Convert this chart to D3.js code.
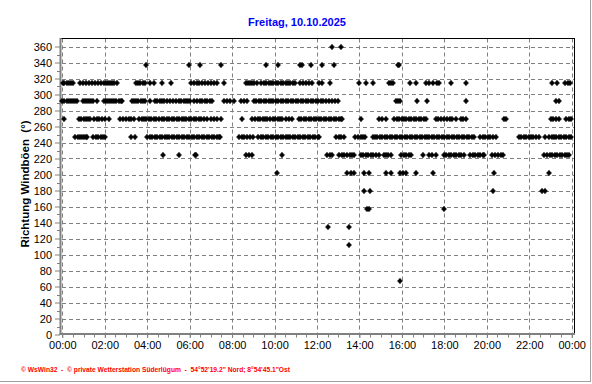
<!DOCTYPE html>
<html>
<head>
<meta charset="utf-8">
<script src="https://cdn.jsdelivr.net/npm/d3@7"></script>
<style>
  body { margin: 0; background: #fff; }
  text { font-family: Arial, "Liberation Sans", sans-serif; }
</style>
</head>
<body>
<div id="chart"></div>
<script>
// gust direction readings, minutes after midnight, grouped by compass direction
const dir360 = [763, 787];
const dir3375 = [238, 358, 388, 448, 575, 610, 672, 678, 702, 733, 768, 948, 953];
const dir315 = [1, 6, 12, 18, 24, 30, 51, 59, 68, 76, 85, 93, 101, 110, 117, 123, 129, 135, 141, 147, 155,
  209, 215, 221, 228, 234, 247, 260, 282, 308, 365, 372, 380, 387, 395, 404, 412, 420, 428, 438, 458,
  518, 524, 530, 536, 543, 550, 563, 570, 577, 584, 590, 597, 604, 611, 618, 624, 631, 638, 645, 651, 658,
  672, 680, 688, 696, 707, 725, 733, 758, 839, 858, 877, 923, 928, 934, 983, 999, 1027, 1036, 1047, 1058,
  1065, 1099, 1140, 1385, 1398, 1420, 1430, 1436];
const dir2925 = [0, 6, 12, 18, 24, 30, 36, 41, 58, 64, 70, 76, 82, 88, 98, 117, 123, 129, 135, 141, 147, 153,
  159, 165, 169, 197, 203, 209, 215, 222, 228, 233, 249, 263, 268, 276, 282, 288, 296, 304, 312, 320, 329,
  336, 343, 350, 356, 362, 371, 380, 388, 395, 402, 410, 418, 424, 457, 465, 473, 485, 504, 515, 523, 541,
  548, 555, 562, 569, 576, 583, 590, 597, 604, 611, 618, 625, 632, 639, 646, 653, 660, 667, 674, 681, 688,
  695, 702, 709, 716, 722, 730, 738, 745, 754, 762, 770, 778, 943, 950, 956, 1004, 1032, 1140, 1395, 1403];
const dir270 = [4, 46, 53, 60, 67, 74, 79, 91, 98, 105, 113, 121, 131, 164, 172, 180, 188, 193, 202, 216, 224,
  231, 238, 245, 252, 259, 266, 274, 281, 288, 295, 302, 309, 316, 323, 330, 337, 344, 351, 358, 365, 372,
  379, 386, 393, 400, 409, 419, 428, 438, 450, 509, 537, 545, 552, 559, 566, 573, 580, 588, 595, 602, 609,
  616, 622, 631, 640, 650, 669, 676, 683, 690, 697, 704, 711, 718, 725, 732, 739, 746, 753, 760, 767, 774,
  781, 788, 791, 844, 895, 905, 914, 938, 945, 952, 959, 966, 973, 980, 987, 994, 1001, 1008, 1015, 1022,
  1029, 1055, 1063, 1071, 1079, 1087, 1095, 1103, 1112, 1126, 1134, 1140, 1249, 1253, 1381, 1388, 1395,
  1405, 1424, 1431, 1438];
const dir2475 = [37, 43, 49, 55, 61, 67, 70, 87, 94, 101, 108, 115, 122, 193, 206, 240, 247, 254, 261, 268,
  275, 282, 289, 296, 303, 310, 317, 324, 331, 338, 345, 352, 359, 366, 373, 380, 387, 394, 401, 408, 415,
  422, 429, 436, 443, 447, 499, 507, 515, 523, 531, 538, 554, 561, 568, 575, 582, 589, 596, 603, 610, 617,
  624, 631, 638, 645, 652, 659, 666, 673, 680, 687, 694, 701, 708, 715, 722, 727, 773, 781, 789, 796, 827,
  835, 843, 851, 857, 877, 884, 891, 898, 905, 912, 919, 926, 933, 940, 947, 954, 961, 968, 975, 982, 989,
  996, 1003, 1010, 1017, 1024, 1031, 1038, 1045, 1052, 1059, 1066, 1073, 1080, 1087, 1094, 1101, 1108,
  1115, 1122, 1129, 1136, 1143, 1150, 1157, 1164, 1182, 1189, 1196, 1203, 1210, 1217, 1225, 1291, 1298,
  1305, 1312, 1319, 1326, 1330, 1340, 1347, 1364, 1376, 1383, 1390, 1397, 1404, 1411, 1418, 1425, 1432, 1439];
const dir225 = [284, 331, 376, 379, 518, 527, 537, 622, 749, 756, 763, 782, 790, 797, 804, 812, 819, 826, 844,
  851, 858, 865, 872, 879, 886, 895, 908, 916, 922, 928, 958, 966, 973, 980, 987, 1019, 1037, 1046, 1055,
  1079, 1086, 1093, 1100, 1107, 1114, 1121, 1128, 1136, 1153, 1160, 1167, 1174, 1181, 1188, 1192, 1216,
  1224, 1232, 1240, 1247, 1363, 1371, 1378, 1385, 1392, 1399, 1406, 1413, 1420, 1427, 1433];
const dir2025 = [607, 805, 815, 824, 853, 866, 915, 928, 956, 964, 973, 999, 1048, 1221, 1376];
const dir180 = [853, 869, 1218, 1357, 1365];
const dir1575 = [860, 867, 1079];
const dir135 = [751, 811];
const dir1125 = [811];
const dir675 = [956];

const yTicks = [0, 20, 40, 60, 80, 100, 120, 140, 160, 180, 200, 220, 240, 260, 280, 300, 320, 340, 360];
const title = "Freitag, 10.10.2025";
const yLabel = "Richtung Windböen  (°)";
const footer = "© WsWin32  -  © private Wetterstation Süderlügum  -  54°52'19.2\" Nord; 8°54'45.1\"Ost";

const series = [
  [360, dir360], [337.5, dir3375], [315, dir315], [292.5, dir2925], [270, dir270], [247.5, dir2475],
  [225, dir225], [202.5, dir2025], [180, dir180], [157.5, dir1575], [135, dir135], [112.5, dir1125], [67.5, dir675]
];
const day = new Date(2025, 9, 10);
const points = series.flatMap(([deg, mins]) =>
  mins.map(m => ({ t: d3.timeMinute.offset(day, m), v: deg })));

const W = 592, H = 384;
const svg = d3.select("#chart").append("svg")
  .attr("width", W)
  .attr("height", H);

let x = d3.scaleTime()
  .domain([day, d3.timeDay.offset(day, 1)])
  .range([62.3, 571.7]);
let y = d3.scaleLinear()
  .domain([0, 360])
  .range([334.5, 46.5]);

// outer shadow border
svg.append("line").attr("x1", 590.5).attr("x2", 590.5).attr("y1", 0).attr("y2", 382)
  .attr("stroke", "#a0a0a0");
svg.append("line").attr("x1", 0).attr("x2", 591).attr("y1", 381.5).attr("y2", 381.5)
  .attr("stroke", "#a0a0a0");

// title
svg.append("text")
  .attr("x", 297).attr("y", 26)
  .attr("text-anchor", "middle")
  .attr("font-size", 11).attr("font-weight", "bold")
  .attr("fill", "#0000ff")
  .text(title);

// grid
const hours = d3.timeHour.every(2).range(day, d3.timeDay.offset(day, 1, ), 2);
const gridTimes = d3.timeHour.range(day, d3.timeHour.offset(day, 25), 2);
svg.append("g").selectAll("line").data(gridTimes).join("line")
  .attr("x1", d => Math.round(x(d)) + 0.5).attr("x2", d => Math.round(x(d)) + 0.5)
  .attr("y1", 38.5).attr("y2", 333)
  .attr("stroke", "#808080").attr("stroke-dasharray", "4,3");
svg.append("g").selectAll("line").data(yTicks.filter(t => t > 0)).join("line")
  .attr("x1", 62).attr("x2", 574)
  .attr("y1", d => Math.round(y(d)) + 0.5).attr("y2", d => Math.round(y(d)) + 0.5)
  .attr("stroke", "#808080").attr("stroke-dasharray", "4,3");

// frame: black top/right, grey thick left/bottom
svg.append("line").attr("x1", 60).attr("x2", 574.5).attr("y1", 38.5).attr("y2", 38.5).attr("stroke", "#000");
svg.append("line").attr("x1", 574.5).attr("x2", 574.5).attr("y1", 38).attr("y2", 334).attr("stroke", "#000");

// minor ticks
const minorX = d3.timeMinute.every(30).range(day, d3.timeMinute.offset(day, 1441));
svg.append("g").selectAll("line").data(minorX).join("line")
  .attr("x1", d => Math.round(x(d)) + 0.5).attr("x2", d => Math.round(x(d)) + 0.5)
  .attr("y1", 334).attr("y2", 337.5)
  .attr("stroke", "#808080");
svg.append("g").selectAll("line").data(d3.range(10, 360, 20)).join("line")
  .attr("x1", 57).attr("x2", 60)
  .attr("y1", d => Math.round(y(d)) + 0.5).attr("y2", d => Math.round(y(d)) + 0.5)
  .attr("stroke", "#808080");

// axes
let xAxis = d3.axisBottom(x)
  .tickValues(gridTimes)
  .tickFormat(d3.timeFormat("%H:%M"))
  .tickSize(5)
  .tickPadding(3);
let gx = svg.append("g").attr("transform", "translate(0,333)").call(xAxis);
gx.select(".domain").remove();
gx.selectAll("line").attr("stroke", "#808080");
gx.selectAll("text").attr("font-size", 11).attr("font-family", "Arial, 'Liberation Sans', sans-serif").attr("fill", "#000");

let yAxis = d3.axisLeft(y)
  .tickValues(yTicks)
  .tickSize(5)
  .tickPadding(3);
let gy = svg.append("g").attr("transform", "translate(60,0)").call(yAxis);
gy.select(".domain").remove();
gy.selectAll("line").attr("stroke", "#808080");
gy.selectAll("text").attr("font-size", 11).attr("font-family", "Arial, 'Liberation Sans', sans-serif").attr("fill", "#000");

svg.append("line").attr("x1", 60.5).attr("x2", 60.5).attr("y1", 38).attr("y2", 335)
  .attr("stroke", "#808080").attr("stroke-width", 2);
svg.append("line").attr("x1", 59.5).attr("x2", 575).attr("y1", 334).attr("y2", 334)
  .attr("stroke", "#808080").attr("stroke-width", 2);

// y axis label
svg.append("text")
  .attr("transform", "translate(29,184) rotate(-90)")
  .attr("text-anchor", "middle")
  .attr("font-size", 11.5).attr("font-weight", "bold")
  .attr("fill", "#000")
  .attr("xml:space", "preserve")
  .style("white-space", "pre")
  .text(yLabel);

// data markers
const marker = "M0,-2.8L1.2,-1.2L2.6,0L1.2,1.2L0,2.8L-1.2,1.2L-2.6,0L-1.2,-1.2Z";
svg.append("g").selectAll("path").data(points).join("path")
  .attr("d", marker)
  .attr("transform", d => `translate(${Math.round(x(d.t))},${Math.round(y(d.v))})`)
  .attr("fill", "#000")
  .attr("stroke", "#000")
  .attr("stroke-width", 0.6);

// footer
svg.append("text")
  .attr("x", 21).attr("y", 372)
  .attr("font-size", 7).attr("font-weight", "bold")
  .attr("fill", "#ff0000")
  .attr("textLength", 269).attr("lengthAdjust", "spacingAndGlyphs")
  .style("white-space", "pre")
  .text(footer);
</script>
</body>
</html>
